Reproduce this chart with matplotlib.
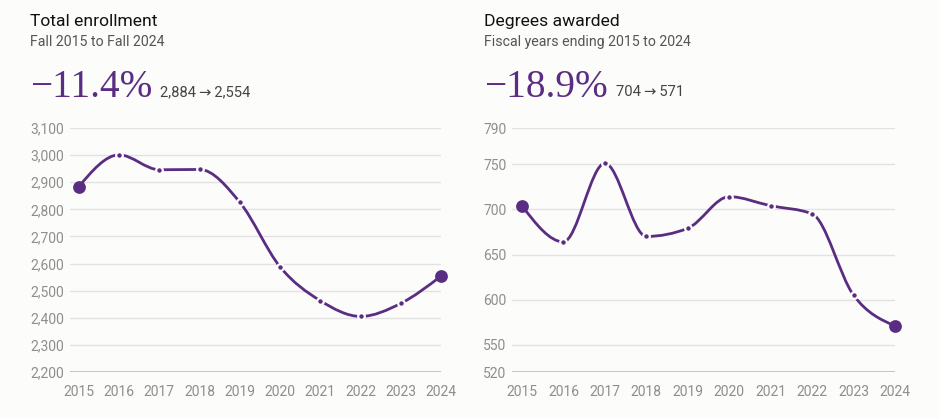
import numpy as np
import matplotlib
matplotlib.use('Agg')
import matplotlib.pyplot as plt
from matplotlib.path import Path
from matplotlib.patches import PathPatch

years = [2015, 2016, 2017, 2018, 2019, 2020, 2021, 2022, 2023, 2024]
enrollment = [2884, 3001, 2946, 2947, 2826, 2588, 2463, 2405, 2453, 2554]
degrees = [704, 664, 751, 670, 679, 714, 704, 695, 605, 571]

enroll_ticks = [2200, 2300, 2400, 2500, 2600, 2700, 2800, 2900, 3000, 3100]
degree_ticks = [520, 550, 600, 650, 700, 750, 790]

purple = '#5a2d82'
bg = '#fcfcfb'
sans = ['Roboto', 'DejaVu Sans']
serif = ['Liberation Serif', 'DejaVu Serif']

plt.rcParams['font.family'] = sans


def monotone_path(x, y):
    # cubic bezier path like d3 curveMonotoneX
    x = np.asarray(x, float)
    y = np.asarray(y, float)
    n = len(x)
    t = np.zeros(n)
    for i in range(1, n - 1):
        h0, h1 = x[i] - x[i - 1], x[i + 1] - x[i]
        s0, s1 = (y[i] - y[i - 1]) / h0, (y[i + 1] - y[i]) / h1
        p = (s0 * h1 + s1 * h0) / (h0 + h1)
        t[i] = (np.sign(s0) + np.sign(s1)) * min(abs(s0), abs(s1), 0.5 * abs(p))
    t[0] = (3 * (y[1] - y[0]) / (x[1] - x[0]) - t[1]) / 2
    t[-1] = (3 * (y[-1] - y[-2]) / (x[-1] - x[-2]) - t[-2]) / 2
    verts = [(x[0], y[0])]
    codes = [Path.MOVETO]
    for i in range(n - 1):
        dx = (x[i + 1] - x[i]) / 3
        verts += [(x[i] + dx, y[i] + dx * t[i]),
                  (x[i + 1] - dx, y[i + 1] - dx * t[i + 1]),
                  (x[i + 1], y[i + 1])]
        codes += [Path.CURVE4] * 3
    return Path(verts, codes)


def draw_panel(ax, vals, ticks, fmt, xpad):
    ax.set_facecolor(bg)
    ax.add_patch(PathPatch(monotone_path(years, vals), fill=False,
                           ec=purple, lw=2.0, clip_on=False, zorder=3))
    ax.plot(years[1:-1], vals[1:-1], 'o', color=purple, ms=4.8,
            mec=bg, mew=1.6, zorder=4, clip_on=False)
    ax.plot([years[0], years[-1]], [vals[0], vals[-1]], 'o', color=purple,
            ms=9.2, mew=0, zorder=5, clip_on=False)
    ax.set_xlim(years[0] - xpad, years[-1])
    ax.set_ylim(ticks[0], ticks[-1])
    ax.set_yticks(ticks)
    ax.set_yticklabels([fmt(v) for v in ticks])
    ax.set_xticks(years)
    ax.set_xticklabels([str(v) for v in years])
    for v in ticks[1:]:
        ax.axhline(v, color='#e2e2e2', lw=1, zorder=1)
    ax.axhline(ticks[0], color='#b9b9b9', lw=1.2, zorder=2)
    for s in ax.spines.values():
        s.set_visible(False)
    ax.tick_params(length=0, labelsize=10, labelcolor='#8e8e8e')
    ax.tick_params(axis='y', pad=4)
    ax.tick_params(axis='x', pad=9)


fig = plt.figure(figsize=(9.4, 4.18), dpi=100, facecolor=bg)
H = 418.0
W = 940.0

ax1 = fig.add_axes([70 / W, (H - 372) / H, 371 / W, 244 / H])
draw_panel(ax1, enrollment, enroll_ticks, lambda v: f'{v:,}', 0.22)

ax2 = fig.add_axes([512 / W, (H - 372) / H, 383 / W, 244 / H])
draw_panel(ax2, degrees, degree_ticks, lambda v: str(v), 0.24)


def header(x, title, sub, pct, change, cx):
    fig.text(x / W, 1 - 26 / H, title, fontsize=12.6, color='#111111', va='baseline')
    fig.text(x / W, 1 - 46 / H, sub, fontsize=10.2, color='#555555', va='baseline')
    fig.text(x / W, 1 - 97 / H, pct, fontsize=28.3, color=purple, va='baseline',
             family=serif)
    fig.text(cx / W, 1 - 96 / H, change, fontsize=10.6, color='#444444',
             va='baseline', family=sans)


header(30, 'Total enrollment', 'Fall 2015 to Fall 2024', '\u221211.4%',
       '2,884\u2009\u2192\u20092,554', 160)
header(484, 'Degrees awarded', 'Fiscal years ending 2015 to 2024', '\u221218.9%',
       '704\u2009\u2192\u2009571', 616)

fig.savefig('out.png', dpi=100, facecolor=bg)
